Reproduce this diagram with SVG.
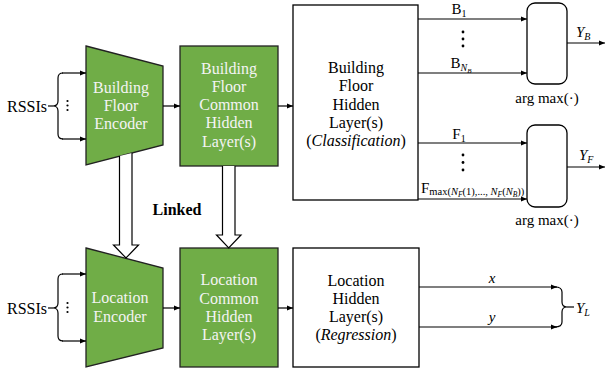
<svg xmlns="http://www.w3.org/2000/svg" width="605" height="370" viewBox="0 0 605 370">
<defs>
<marker id="ah" viewBox="0 0 10 10" refX="10" refY="5" markerWidth="6" markerHeight="6" markerUnits="userSpaceOnUse" orient="auto">
<path d="M0,1 L10,5 L0,9 z" fill="#000"/>
</marker>
</defs>
<style>
text{font-family:'Liberation Serif','Times New Roman',serif}
.t{font-size:16px;fill:#000;text-anchor:middle}
.w{fill:#f4f4f4}
.g{fill:#70ad47;stroke:#222;stroke-width:1.3}
.b{fill:#fff;stroke:#000;stroke-width:1.3}
.c{fill:none;stroke:#000;stroke-width:1.2}
.ca{fill:none;stroke:#000;stroke-width:1.2;marker-end:url(#ah)}
.i{font-style:italic}
</style>
<rect width="605" height="370" fill="#fff"/>

<g id="bf-encoder">
<polygon class="g" points="86,46 163,66 163,145 86,165"/>
<text class="t w" x="121" y="93">Building</text>
<text class="t w" x="121" y="111">Floor</text>
<text class="t w" x="121" y="129">Encoder</text>
</g>

<g id="bf-common">
<rect class="g" x="180" y="46" width="98" height="120"/>
<text class="t w" x="229" y="74">Building</text>
<text class="t w" x="229" y="92">Floor</text>
<text class="t w" x="229" y="110">Common</text>
<text class="t w" x="229" y="128">Hidden</text>
<text class="t w" x="229" y="147">Layer(s)</text>
</g>

<g id="bf-hidden">
<rect class="b" x="293" y="5" width="125" height="195"/>
<text class="t" x="356" y="73">Building</text>
<text class="t" x="356" y="91">Floor</text>
<text class="t" x="356" y="110">Hidden</text>
<text class="t" x="356" y="128">Layer(s)</text>
<text class="t" x="356" y="146">(<tspan class="i">Classification</tspan>)</text>
</g>

<g id="argmax-b">
<rect class="b" x="527" y="3" width="40" height="81" rx="8"/>
<text class="t" x="547" y="103" style="font-size:15px">arg max(&#183;)</text>
</g>

<g id="argmax-f">
<rect class="b" x="527" y="125" width="40" height="82" rx="8"/>
<text class="t" x="547" y="225" style="font-size:15px">arg max(&#183;)</text>
</g>

<g id="loc-encoder">
<polygon class="g" points="86,248 163,268 163,348 86,367"/>
<text class="t w" x="120" y="303">Location</text>
<text class="t w" x="120" y="322">Encoder</text>
</g>

<g id="loc-common">
<rect class="g" x="180" y="248" width="98" height="119"/>
<text class="t w" x="229" y="285">Location</text>
<text class="t w" x="229" y="304">Common</text>
<text class="t w" x="229" y="322">Hidden</text>
<text class="t w" x="229" y="340">Layer(s)</text>
</g>

<g id="loc-hidden">
<rect class="b" x="293" y="248" width="126" height="119"/>
<text class="t" x="356" y="286">Location</text>
<text class="t" x="356" y="304">Hidden</text>
<text class="t" x="356" y="322">Layer(s)</text>
<text class="t" x="356" y="340">(<tspan class="i">Regression</tspan>)</text>
</g>

<g id="rssi-top">
<text class="t" x="27" y="112">RSSIs</text>
<line class="c" x1="48" y1="106" x2="53" y2="106"/>
<path class="c" d="M63,73 Q58,73 58,78 L58,101 Q58,106 53,106 Q58,106 58,111 L58,134 Q58,139 63,139"/>
<circle cx="67.5" cy="101" r="1.1"/><circle cx="67.5" cy="105.5" r="1.1"/><circle cx="67.5" cy="110" r="1.1"/>
</g>

<g id="rssi-bottom">
<text class="t" x="27" y="314">RSSIs</text>
<line class="c" x1="48" y1="308" x2="53" y2="308"/>
<path class="c" d="M63,274 Q58,274 58,279 L58,303 Q58,308 53,308 Q58,308 58,313 L58,336 Q58,341 63,341"/>
<circle cx="67.5" cy="303" r="1.1"/><circle cx="67.5" cy="307.5" r="1.1"/><circle cx="67.5" cy="312" r="1.1"/>
</g>

<g id="connectors">
<line class="ca" x1="62" y1="73" x2="86" y2="73"/>
<line class="ca" x1="62" y1="139" x2="86" y2="139"/>
<line class="ca" x1="62" y1="274" x2="86" y2="274"/>
<line class="ca" x1="62" y1="341" x2="86" y2="341"/>
<line class="ca" x1="163" y1="106" x2="180" y2="106"/>
<line class="ca" x1="278" y1="106" x2="293" y2="106"/>
<line class="ca" x1="163" y1="308" x2="180" y2="308"/>
<line class="ca" x1="278" y1="308" x2="293" y2="308"/>
<line class="ca" x1="418" y1="19" x2="527" y2="19"/>
<line class="ca" x1="418" y1="73" x2="527" y2="73"/>
<line class="ca" x1="418" y1="143" x2="527" y2="143"/>
<line class="ca" x1="418" y1="199" x2="527" y2="199"/>
<line class="ca" x1="567" y1="43" x2="605" y2="43"/>
<line class="ca" x1="567" y1="167" x2="605" y2="167"/>
<line class="ca" x1="419" y1="287" x2="557" y2="287"/>
<line class="ca" x1="419" y1="327" x2="557" y2="327"/>
<path class="c" d="M555,287 Q562,287 562,292 L562,302 Q562,307 567,307 Q562,307 562,312 L562,322 Q562,327 555,327"/>
<line class="c" x1="567" y1="307" x2="574" y2="307"/>
<path d="M119.5,156 L132,153 L132,245 L138.5,245 L126,258 L113.5,245 L119.5,245 z" fill="#fff"/>
<path class="c" d="M119.5,156 L119.5,245 L113.5,245 L126,258 L138.5,245 L132,245 L132,153"/>
<path d="M222.5,166 L235,166 L235,235 L241,235 L228.7,248 L216.5,235 L222.5,235 z" fill="#fff"/>
<path class="c" d="M222.5,166 L222.5,235 L216.5,235 L228.7,248 L241,235 L235,235 L235,166"/>
</g>

<g id="labels">
<text class="t" x="177" y="215" style="font-weight:bold">Linked</text>
<text class="t" x="459" y="14" style="font-size:15px">B<tspan font-size="10" dy="3">1</tspan></text>
<circle cx="463" cy="32" r="1.4"/><circle cx="463" cy="39" r="1.4"/><circle cx="463" cy="46" r="1.4"/>
<text class="t" x="461" y="68" style="font-size:15px">B<tspan font-size="10" dy="3" class="i">N</tspan><tspan font-size="7" dy="2" class="i">B</tspan></text>
<text x="576" y="37" style="font-size:15px"><tspan class="i">Y</tspan><tspan font-size="10" dy="3" class="i">B</tspan></text>
<text class="t" x="459" y="139" style="font-size:15px">F<tspan font-size="10" dy="3">1</tspan></text>
<circle cx="463" cy="155" r="1.4"/><circle cx="463" cy="162.5" r="1.4"/><circle cx="463" cy="170" r="1.4"/>
<text x="421" y="193" style="font-size:15px">F<tspan font-size="10.5" dy="2">max(<tspan class="i">N</tspan><tspan font-size="7.5" dy="2" class="i">F</tspan><tspan dy="-2">(1),..., </tspan><tspan class="i">N</tspan><tspan font-size="7.5" dy="2" class="i">F</tspan><tspan dy="-2">(</tspan><tspan class="i">N</tspan><tspan font-size="7.5" dy="2" class="i">B</tspan><tspan dy="-2">))</tspan></tspan></text>
<text x="579" y="160" style="font-size:15px"><tspan class="i">Y</tspan><tspan font-size="10" dy="3" class="i">F</tspan></text>
<text class="t i" x="492" y="283" style="font-size:15px">x</text>
<text class="t i" x="492" y="322" style="font-size:15px">y</text>
<text x="576" y="313" style="font-size:15px"><tspan class="i">Y</tspan><tspan font-size="10" dy="3" class="i">L</tspan></text>
</g>
</svg>
